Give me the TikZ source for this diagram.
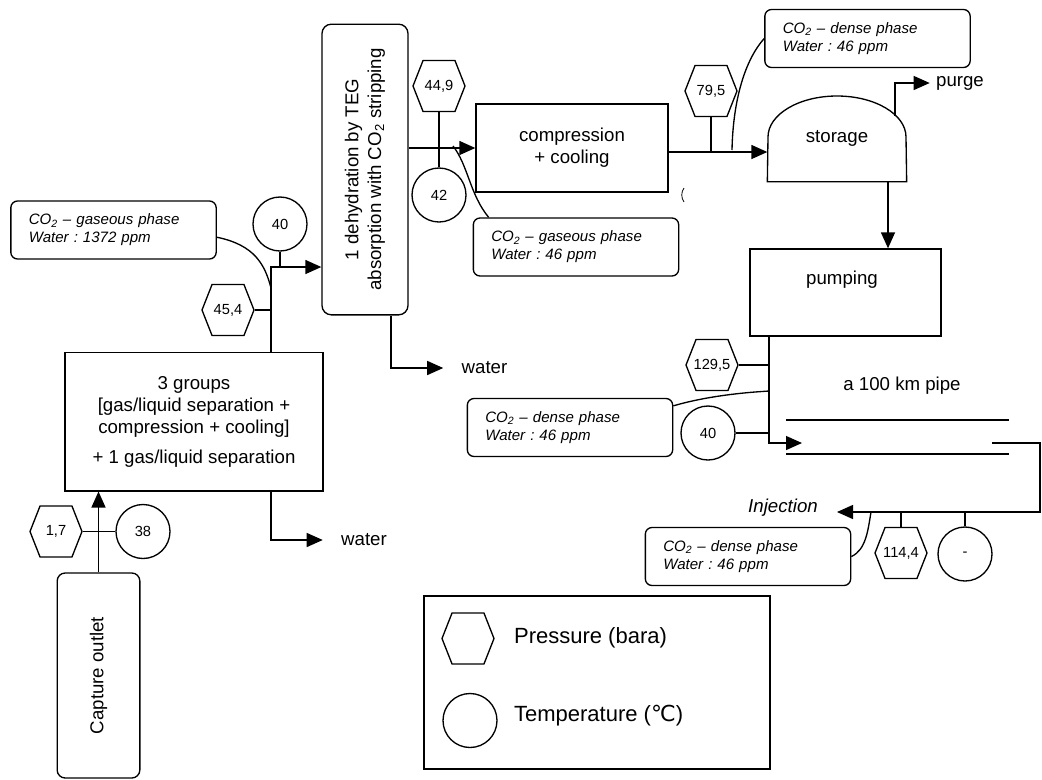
\documentclass[tikz,border=0pt]{standalone}
\usepackage{fontspec}
\setmainfont{Liberation Sans}
\newfontfamily\symbfont{DejaVu Sans}
\usetikzlibrary{arrows.meta,shapes.symbols}
\frenchspacing

\newcommand\pval[1]{\makebox[18pt]{#1}}

\tikzset{
  flow/.style={-{Triangle[length=12pt,width=10.5pt]}},
  unit/.style={draw, rectangle, inner sep=2pt},
  press/.style={draw, signal, signal to=east and west, signal pointer angle=137,
    minimum width=39pt, minimum height=38.25pt, inner sep=0pt,
    font=\fontsize{11}{13}\selectfont},
  temp/.style={draw, circle, minimum size=40.5pt, inner sep=0pt,
    font=\fontsize{11}{13}\selectfont},
  note/.style={draw, rounded corners=5pt, minimum height=43.5pt, text width=127pt,
    inner xsep=13.5pt, align=left, font=\fontsize{11.3}{13.5}\selectfont\itshape},
}

\begin{document}
\begin{tikzpicture}[x=0.75pt,y=-0.75pt,line width=1pt,font=\fontsize{14}{16.5}\selectfont]
\useasboundingbox (0,0) rectangle (1042,779);

% process units (rotated ones: east = top, north = left side)
\node (capture) [unit, rounded corners=6pt, rotate=90, minimum width=153.75pt, minimum height=62pt] at (98.5,675.5) {Capture outlet};
\node (groups) [unit, minimum width=193.5pt, minimum height=104pt, align=center] at (194,421.5)
  {3 groups\\{[}gas/liquid separation +\\compression + cooling{]}\\[6pt]+ 1 gas/liquid separation};
\node (dehyd) [unit, rounded corners=7pt, rotate=90, minimum width=218pt, minimum height=64.5pt, align=center,
  font=\fontsize{14}{17}\selectfont] at (365,169.5) {1 dehydration by TEG\\absorption with CO\textsubscript{2} stripping};
\node (comp) [unit, minimum width=144pt, minimum height=66pt, align=center] at (572,148) {compression\\+ cooling};
\node (store) [minimum width=103.5pt, minimum height=63.75pt, inner sep=0pt] at (837,138.5) {storage};
\draw (store.south west) -- (768,137) .. controls (768,114.4) and (798.9,96) .. (837,96)
  .. controls (875.1,96) and (906,114.4) .. (906,137) -- (store.south east) -- cycle;
\node (pump) [unit, minimum width=143.25pt, minimum height=65.25pt] at (845.5,292.5) {};
\node (pumptxt) at (842,280) {pumping};
\node (pipetxt) at (902,386) {a 100 km pipe};
\draw (786,420) -- (1009,420) (786,454) -- (1009,454);

% outlets
\node (water1) at (364,540) {water};
\node (water2) at (484.5,368) {water};
\node (purge) at (960,83) {purge};
\node (inj) [font=\fontsize{14}{16}\selectfont\itshape] at (783,508) {Injection};

% pressures and temperatures
\node (p1) [press] at (56,531.5) {\pval{1,7}};
\node (t1) [temp] at (143,531.5) {38};
\node (p2) [press] at (228,310) {\pval{45,4}};
\node (t2) [temp] at (280,224) {40};
\node (p3) [press] at (439,86) {\pval{44,9}};
\node (t3) [temp] at (439,195) {42};
\node (p4) [press] at (711,91) {\pval{79,5}};
\node (p5) [press] at (712,365) {\pval{129,5}};
\node (t5) [temp] at (708,433) {40};
\node (p6) [press] at (901,553) {\pval{114,4}};
\node (t6) [temp] at (965,554) {-};

% notes
\node (note1) [note] at (113.5,230) {CO\textsubscript{2} -- gaseous phase\\Water : 1372 ppm};
\node (note2) [note] at (576,247) {CO\textsubscript{2} -- gaseous phase\\Water : 46 ppm};
\node (note3) [note] at (867.5,38.5) {CO\textsubscript{2} -- dense phase\\Water : 46 ppm};
\node (note4) [note] at (570,427.5) {CO\textsubscript{2} -- dense phase\\Water : 46 ppm};
\node (note5) [note] at (748,556.5) {CO\textsubscript{2} -- dense phase\\Water : 46 ppm};

% legend
\node (legend) [draw, minimum width=259.5pt, minimum height=129.75pt] at (597,682.5) {};
\node (lgp) [press] at (468,638.5) {\pval{}};
\node (lgt) [temp] at (470,720.5) {};
\node (lgptxt) [anchor=west, font=\fontsize{16.5}{19}\selectfont] at (509,638) {Pressure (bara)};
\node (lgttxt) [anchor=west, font=\fontsize{16.5}{19}\selectfont] at (509,716) {Temperature ({\symbfont ℃})};

% junctions
\coordinate (j1) at (271,267);
\coordinate (j2) at (391,368);
\coordinate (j3) at (711,152);
\coordinate (vent) at (895,116);
\coordinate (j5) at (769,443);
\coordinate (pipein) at (802,443);
\coordinate (j6) at (769,391);
\coordinate (pipeout) at (992,443);
\coordinate (bend) at (1040,512);
\coordinate (injtip) at (837,512);
\coordinate (n1end) at (271,288);
\coordinate (n2end) at (453,146);
\coordinate (n3end) at (732,150);
\coordinate (n5end) at (871,512);

% flow lines
\draw[flow] (capture.east) -- (capture.east |- groups.south);
\draw (p1.east) -- (t1.west);
\draw[flow] (j1 |- groups.north) -- (j1) -- (j1 -| dehyd.north);
\draw (p2.east) -- (p2.east -| j1);
\draw (t2.south) -- (t2.south |- j1);
\draw[flow] (groups.south -| j1) |- ([xshift=-10pt]water1.west);
\draw[flow] (j2 |- dehyd.west) -- (j2) -- ([xshift=-10pt]water2.west);
\draw[flow] (comp.west -| dehyd.south) -- (comp.west);
\draw (p3.south) -- (t3.north);
\draw[flow] (j3 -| comp.east) -- (j3 -| store.west);
\draw (p4.south) -- (j3);
\draw[flow] (vent) |- ([xshift=-1pt]purge.west);
\draw[flow] ([xshift=38.25pt]store.south) -- ([xshift=38.25pt]store.south |- pump.north);
\draw[flow] (j5 |- pump.south) -- (j5) -- (pipein);
\draw (p5.east) -- (p5.east -| j5);
\draw (t5.east) -- (t5.east -| j5);
\draw[flow] (pipeout) -| (bend) -- (injtip);
\draw (p6.north) -- (p6.north |- bend);
\draw (t6.north) -- (t6.north |- bend);

% note leaders
\draw (note1.-4) .. controls (255,245) and (265,265) .. (n1end);
\draw (n2end) .. controls (468,165) and (470,195) .. ([xshift=12pt]note2.north west);
\draw (note3.west) .. controls (745,60) and (733,100) .. (n3end);
\draw ([yshift=-6pt]note4.north east) .. controls (700,398) and (730,394) .. (755,392) -- (j6);
\draw (note5.east) .. controls (866,550) and (868,530) .. (n5end);

% stray mark
\draw[line width=0.6pt] (684,188) .. controls (681,192) and (681,198) .. (684,202);
\end{tikzpicture}
\end{document}
